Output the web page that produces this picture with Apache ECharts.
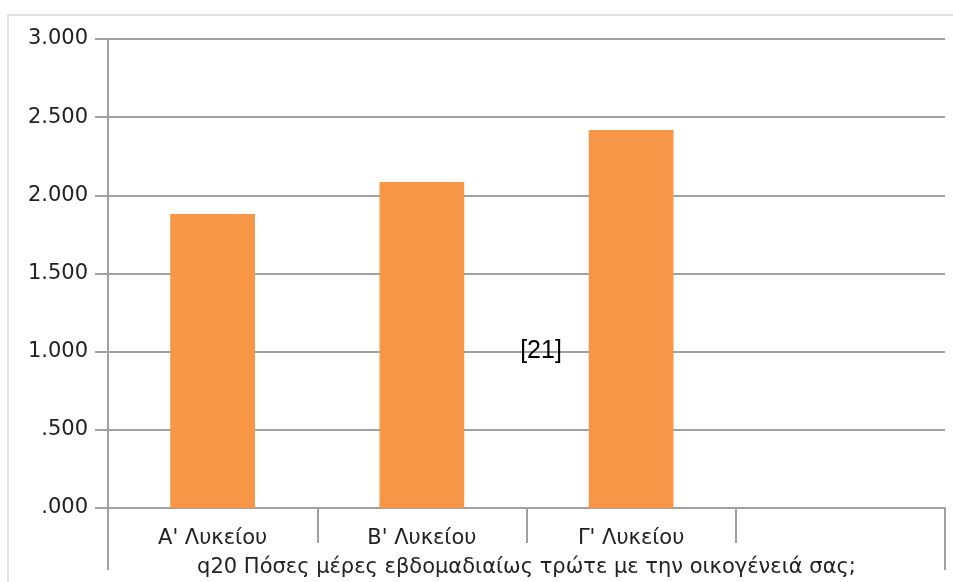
<!DOCTYPE html>
<html>
<head>
<meta charset="utf-8">
<script src="https://cdn.jsdelivr.net/npm/echarts@6/dist/echarts.min.js"></script>
<style>html,body{margin:0;padding:0;background:#fff;}#c{width:953px;height:582px;}</style>
</head>
<body>
<div id="c"></div>
<script>
const categories = ["A' Λυκείου", "B' Λυκείου", "Γ' Λυκείου", ""];
const values = [1.881, 2.085, 2.418, null];
const yMin = 0, yMax = 3, yStep = 0.5;
const axisTitle = "q20 Πόσες μέρες εβδομαδιαίως τρώτε με την οικογένειά σας;";
const noteText = "[21]";

const chart = echarts.init(document.getElementById('c'), null, {renderer: 'canvas'});
const gridLeft = 108, gridRight = 8, gridTop = 39, gridBottom = 74;
const axisColor = '#a0a0a0';
chart.setOption({
  animation: false,
  backgroundColor: '#fff',
  grid: {left: gridLeft, right: gridRight, top: gridTop, bottom: gridBottom, containLabel: false, outerBoundsMode: 'none'},
  xAxis: {
    type: 'category',
    data: categories,
    boundaryGap: true,
    axisLine: {show: true, lineStyle: {color: axisColor, width: 2}},
    axisTick: {show: true, interval: 0, length: 35, alignWithLabel: false, lineStyle: {color: axisColor, width: 2}},
    axisLabel: {interval: 0, margin: 20, color: '#222', fontFamily: 'DejaVu Sans', fontSize: 21},
    name: axisTitle,
    nameLocation: 'middle',
    nameGap: 49,
    nameTextStyle: {color: '#222', fontFamily: 'DejaVu Sans', fontSize: 21}
  },
  yAxis: {
    type: 'value',
    min: yMin, max: yMax, interval: yStep,
    axisLine: {show: true, lineStyle: {color: axisColor, width: 2}},
    axisTick: {show: true, length: 13, lineStyle: {color: axisColor, width: 2}},
    splitLine: {show: true, lineStyle: {color: axisColor, width: 2}},
    axisLabel: {
      margin: 20, color: '#222', fontFamily: 'DejaVu Sans', fontSize: 21,
      formatter: v => { let s = v.toFixed(3); return s.startsWith('0') ? s.slice(1) : s; }
    }
  },
  series: [{
    type: 'bar',
    data: values,
    barWidth: '40.5%',
    itemStyle: {color: '#F79646'},
    silent: true
  }],
  graphic: [
    {type: 'polyline', shape: {points: [[8, 582], [8, 15], [953, 15]]}, style: {stroke: '#e2e2e2', lineWidth: 2, fill: null}, z: -1},
    {type: 'line', shape: {x1: gridLeft, y1: 508, x2: gridLeft, y2: 570}, style: {stroke: axisColor, lineWidth: 2}},
    {type: 'line', shape: {x1: 945, y1: 508, x2: 945, y2: 570}, style: {stroke: axisColor, lineWidth: 2}},
    {type: 'text', x: 541, y: 351, style: {text: noteText, fontFamily: 'Liberation Sans', fontSize: 25, fill: '#000', align: 'center', verticalAlign: 'middle'}, z: 10}
  ]
});
</script>
</body>
</html>
